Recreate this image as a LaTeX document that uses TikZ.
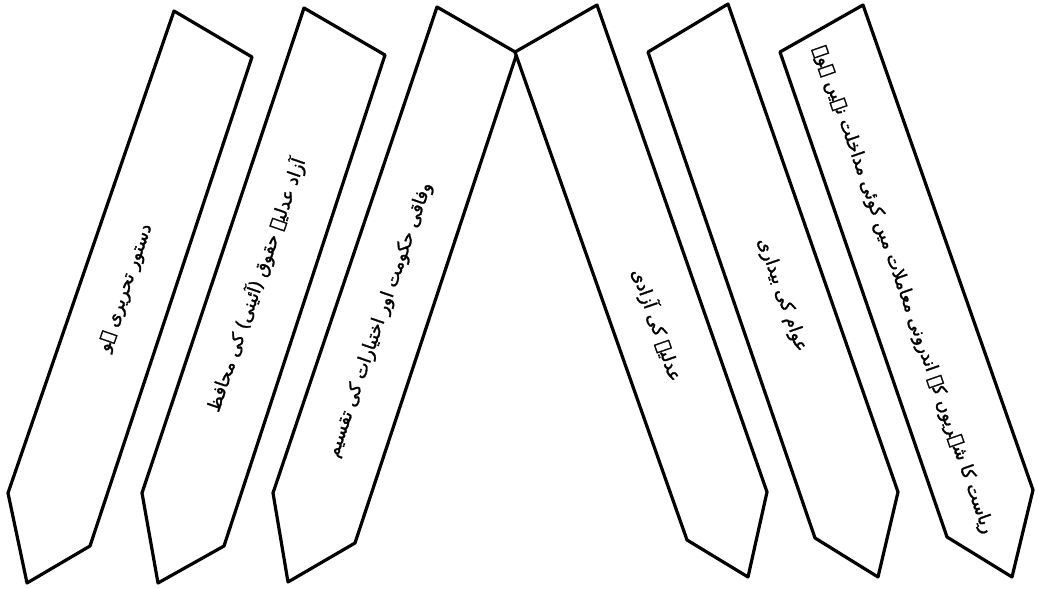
\documentclass[tikz,border=0pt]{standalone}
\usepackage{fontspec}
\newfontfamily\ur[Script=Arabic,FakeBold=1.5]{DejaVu Sans}
\TeXXeTstate=1
\begin{document}
\begin{tikzpicture}[x=1pt,y=-1pt,
  banner/.style={draw=black, line width=3.2pt, line join=round, fill=white},
  lbl/.style={font=\ur\fontsize{18}{20}\selectfont, inner sep=0pt, text=black}]
\useasboundingbox (0,0) rectangle (1039,589);
\fill[white] (0,0) rectangle (1039,589);
% left banners (leaning right)
\draw[banner] (174,11) -- (252,57) -- (90,546) -- (27,583) -- (8,493) -- cycle;
\draw[banner] (304,8) -- (385,55) -- (224,546) -- (158,583) -- (142,493) -- cycle;
\draw[banner] (437,7) -- (517,53) -- (355,543) -- (288,582) -- (273,493) -- cycle;
% right banners (leaning left)
\draw[banner] (597,5) -- (767,492) -- (748,577) -- (687,540) -- (515,52) -- cycle;
\draw[banner] (728,4) -- (898,492) -- (878,577) -- (815,538) -- (648,52) -- cycle;
\draw[banner] (863,5) -- (1033,490) -- (1012,577) -- (947,537) -- (780,52) -- cycle;
% labels
\node[lbl, rotate=71] (t1) at (126,288) {\beginR دستور تحریری ہو\endR};
\node[lbl, rotate=71] (t2) at (256,285) {\beginR آزاد عدلیہ حقوق (آئینی) کی محافظ\endR};
\node[lbl, rotate=71] (t3) at (380,320) {\beginR وفاقی حکومت اور اختیارات کی تقسیم\endR};
\node[lbl, rotate=-70.8] (t4) at (657,325) {\beginR عدلیہ کی آزادی\endR};
\node[lbl, rotate=-70.8] (t5) at (782,295) {\beginR عوام کی بیداری\endR};
\node[lbl, rotate=-70.8] (t6) at (903,290) {\beginR ریاست کا شہریوں کے اندرونی معاملات میں کوئی مداخلت نہیں ہو۔\endR};
\end{tikzpicture}
\end{document}
